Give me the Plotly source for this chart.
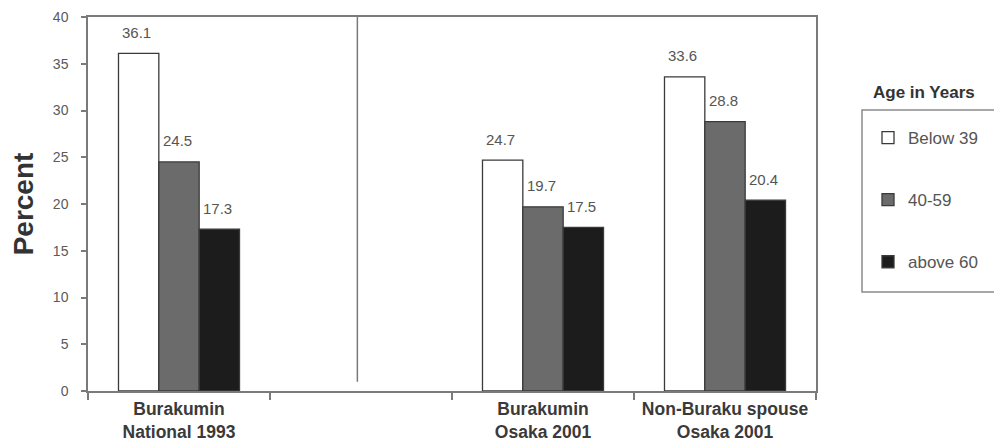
import plotly.graph_objects as go

categories = ["Burakumin<br>National 1993", " ", "Burakumin<br>Osaka 2001", "Non-Buraku spouse<br>Osaka 2001"]
series_names = ["Below 39", "40-59", "above 60"]
below_39 = [36.1, None, 24.7, 33.6]
age_40_59 = [24.5, None, 19.7, 28.8]
above_60 = [17.3, None, 17.5, 20.4]
y_ticks = [0, 5, 10, 15, 20, 25, 30, 35, 40]

series_values = [below_39, age_40_59, above_60]
fills = ["#ffffff", "#6b6b6b", "#1c1c1c"]

FONT = "Liberation Sans, Arial, sans-serif"
W, H = 994, 436
L, R, T, B = 80, 186, 9, 53
PLOT_W = W - L - R
PLOT_H = H - T - B
BAR_GAP = 0.335
bar_px = PLOT_W / len(categories) * (1 - BAR_GAP) / len(series_names)


def px_x(px):
    return (px - L) / PLOT_W


def px_y(py):
    return (H - B - py) / PLOT_H


fig = go.Figure()
for j, (name, vals, col) in enumerate(zip(series_names, series_values, fills)):
    fig.add_trace(go.Bar(
        x=categories, y=vals, name=name, legendgroup=name,
        marker=dict(color=col, line=dict(color="#3a3a3a", width=1.3)),
    ))
    for c, v in zip(categories, vals):
        if v is None:
            continue
        fig.add_annotation(
            x=c, y=v, xref="x", yref="y", text=f"{v:.1f}", showarrow=False,
            xshift=(j - 1) * bar_px - 2, yshift=21, yanchor="middle",
            font=dict(family=FONT, size=15, color="#555555"),
        )

# separator line between national and Osaka data
fig.add_shape(type="line", xref="x", yref="y", x0=0.98, x1=0.98, y0=1, y1=40,
              line=dict(color="#7a7a7a", width=1.5))

# legend box and title
fig.add_shape(type="rect", xref="paper", yref="paper",
              x0=px_x(854), x1=px_x(1010), y0=px_y(284), y1=px_y(102),
              line=dict(color="#8a8a8a", width=1.5), fillcolor="rgba(0,0,0,0)")
fig.add_annotation(xref="paper", yref="paper", x=px_x(916), y=px_y(84),
                   text="<b>Age in Years</b>", showarrow=False, xanchor="center", yanchor="middle",
                   font=dict(family=FONT, size=17, color="#333333"))

fig.update_layout(
    width=W, height=H,
    margin=dict(l=L, r=R, t=T, b=B, autoexpand=False),
    paper_bgcolor="white", plot_bgcolor="white",
    barmode="group", bargap=BAR_GAP, bargroupgap=0,
    showlegend=True,
    legend=dict(x=px_x(860), y=px_y(112), xanchor="left", yanchor="top",
                bgcolor="rgba(0,0,0,0)", borderwidth=0, tracegroupgap=37,
                font=dict(family=FONT, size=17, color="#555555"), traceorder="grouped"),
    font=dict(family=FONT),
)
fig.update_xaxes(
    type="category", categoryorder="array", categoryarray=categories,
    range=[-0.5, len(categories) - 0.5],
    showline=True, linecolor="#7a7a7a", linewidth=1.5, mirror=True,
    ticks="outside", tickson="boundaries", ticklen=7, tickcolor="#7a7a7a", tickwidth=1.5,
    ticklabelstandoff=1,
    tickfont=dict(family=FONT, size=17.5, color="#3a3a3a", weight="bold"),
    showgrid=False, zeroline=False,
)
fig.update_yaxes(
    range=[0, 40], tickvals=y_ticks,
    showline=True, linecolor="#7a7a7a", linewidth=1.5, mirror=True,
    ticks="outside", ticklen=5, tickcolor="#7a7a7a", tickwidth=1.5,
    ticklabelstandoff=10,
    tickfont=dict(family=FONT, size=14, color="#5a5a5a"),
    showgrid=False, zeroline=False,
    title=dict(text="<b>Percent</b>", font=dict(family=FONT, size=28, color="#333333"), standoff=14),
)

fig.write_html("out.html")
